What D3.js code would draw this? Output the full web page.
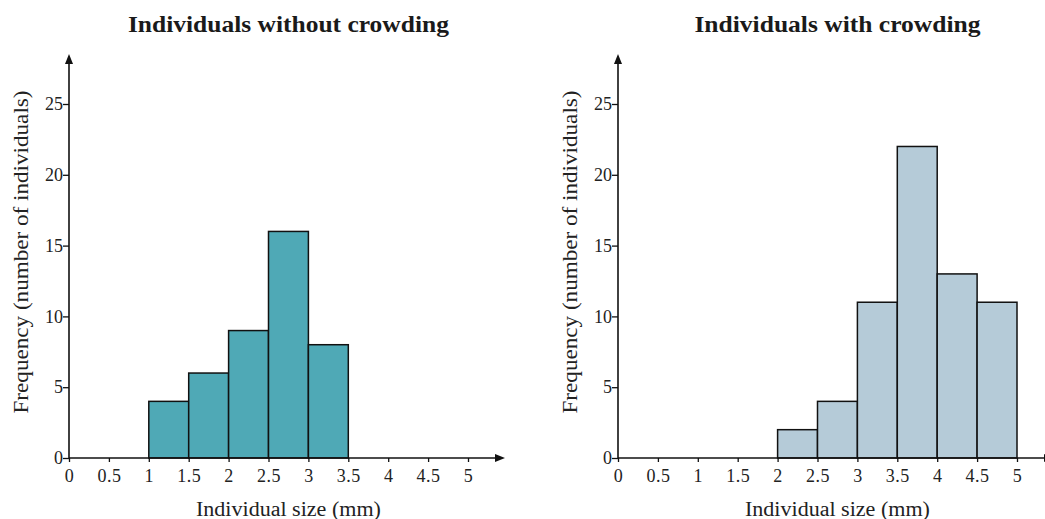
<!DOCTYPE html>
<html lang="en">
<head>
<meta charset="UTF-8">
<title>Individual size histograms</title>
<script src="https://cdnjs.cloudflare.com/ajax/libs/d3/7.8.5/d3.min.js"></script>
<style>
  body { margin: 0; background: #fff; }
  #chart text { font-family: "Liberation Serif", serif; }
</style>
</head>
<body>
<svg id="chart" width="1045" height="519"></svg>
<script>
// bins are [start, end) in mm
const binStartsLeft = [1, 1.5, 2, 2.5, 3];
const countsLeft = [4, 6, 9, 16, 8];
const binStartsRight = [2, 2.5, 3, 3.5, 4, 4.5];
const countsRight = [2, 4, 11, 22, 13, 11];
const binWidth = 0.5;

const xTicks = [0, 0.5, 1, 1.5, 2, 2.5, 3, 3.5, 4, 4.5, 5];
const yTicks = [0, 5, 10, 15, 20, 25];

const panels = [
  { title: "Individuals without crowding", starts: binStartsLeft, counts: countsLeft, color: "#4fa9b6", x0: 69, titleW: 321 },
  { title: "Individuals with crowding", starts: binStartsRight, counts: countsRight, color: "#b5cbd8", x0: 618, titleW: 286 }
];

const svg = d3.select("#chart");
const yBase = 458;

panels.forEach(p => {
  const x = d3.scaleLinear().domain([0, 5]).range([p.x0, p.x0 + 399]);
  const y = d3.scaleLinear().domain([0, 25]).range([yBase, 104]);
  const g = svg.append("g");

  // bars
  g.selectAll("rect.bar")
    .data(p.starts.map((s, i) => ({ s, c: p.counts[i] })))
    .join("rect")
    .attr("class", "bar")
    .attr("x", d => x(d.s))
    .attr("y", d => y(d.c))
    .attr("width", d => x(d.s + binWidth) - x(d.s))
    .attr("height", d => y(0) - y(d.c))
    .attr("fill", p.color)
    .attr("stroke", "#111")
    .attr("stroke-width", 1.5);

  // axes
  const xAxis = d3.axisBottom(x).tickValues(xTicks).tickSize(4).tickFormat(d3.format("~g"));
  const gx = g.append("g").attr("transform", `translate(0,${yBase})`).call(xAxis)
    .attr("font-size", 18);
  gx.select(".domain").remove();
  gx.selectAll(".tick line").attr("stroke", "#111").attr("stroke-width", 1.3);
  gx.selectAll(".tick text").attr("y", 11).attr("fill", "#222").attr("letter-spacing", 0.5);

  const yAxis = d3.axisLeft(y).tickValues(yTicks).tickSize(6);
  const gy = g.append("g").attr("transform", `translate(${p.x0},0)`).call(yAxis)
    .attr("font-size", 18);
  gy.select(".domain").remove();
  gy.selectAll(".tick line").attr("stroke", "#111").attr("stroke-width", 1.3);
  gy.selectAll(".tick text").attr("x", -6).attr("fill", "#222");

  // axis lines with arrows
  g.append("line").attr("x1", p.x0).attr("x2", p.x0).attr("y1", yBase).attr("y2", 62)
    .attr("stroke", "#111").attr("stroke-width", 1.6);
  g.append("path")
    .attr("d", `M${p.x0},54 L${p.x0 - 4},64 L${p.x0 + 4},64 Z`)
    .attr("fill", "#111");
  const xEnd = x(5) + 37;
  g.append("line").attr("x1", p.x0).attr("x2", xEnd - 6).attr("y1", yBase).attr("y2", yBase)
    .attr("stroke", "#111").attr("stroke-width", 1.6);
  g.append("path")
    .attr("d", `M${xEnd},${yBase} L${xEnd - 10},${yBase - 4} L${xEnd - 10},${yBase + 4} Z`)
    .attr("fill", "#111");

  const cx = x(2.75);
  g.append("text")
    .attr("x", cx).attr("y", 32).attr("text-anchor", "middle")
    .attr("font-size", 24).attr("font-weight", "bold")
    .attr("textLength", p.titleW).attr("lengthAdjust", "spacingAndGlyphs")
    .attr("fill", "#1a1a1a")
    .text(p.title);
  g.append("text")
    .attr("x", cx).attr("y", 516).attr("text-anchor", "middle")
    .attr("font-size", 20)
    .attr("textLength", 185).attr("lengthAdjust", "spacingAndGlyphs")
    .attr("fill", "#222")
    .text("Individual size (mm)");
  g.append("text")
    .attr("transform", `translate(${p.x0 - 41},252) rotate(-90)`)
    .attr("text-anchor", "middle")
    .attr("font-size", 21)
    .attr("textLength", 323).attr("lengthAdjust", "spacingAndGlyphs")
    .attr("fill", "#222")
    .text("Frequency (number of individuals)");
});
</script>
</body>
</html>
